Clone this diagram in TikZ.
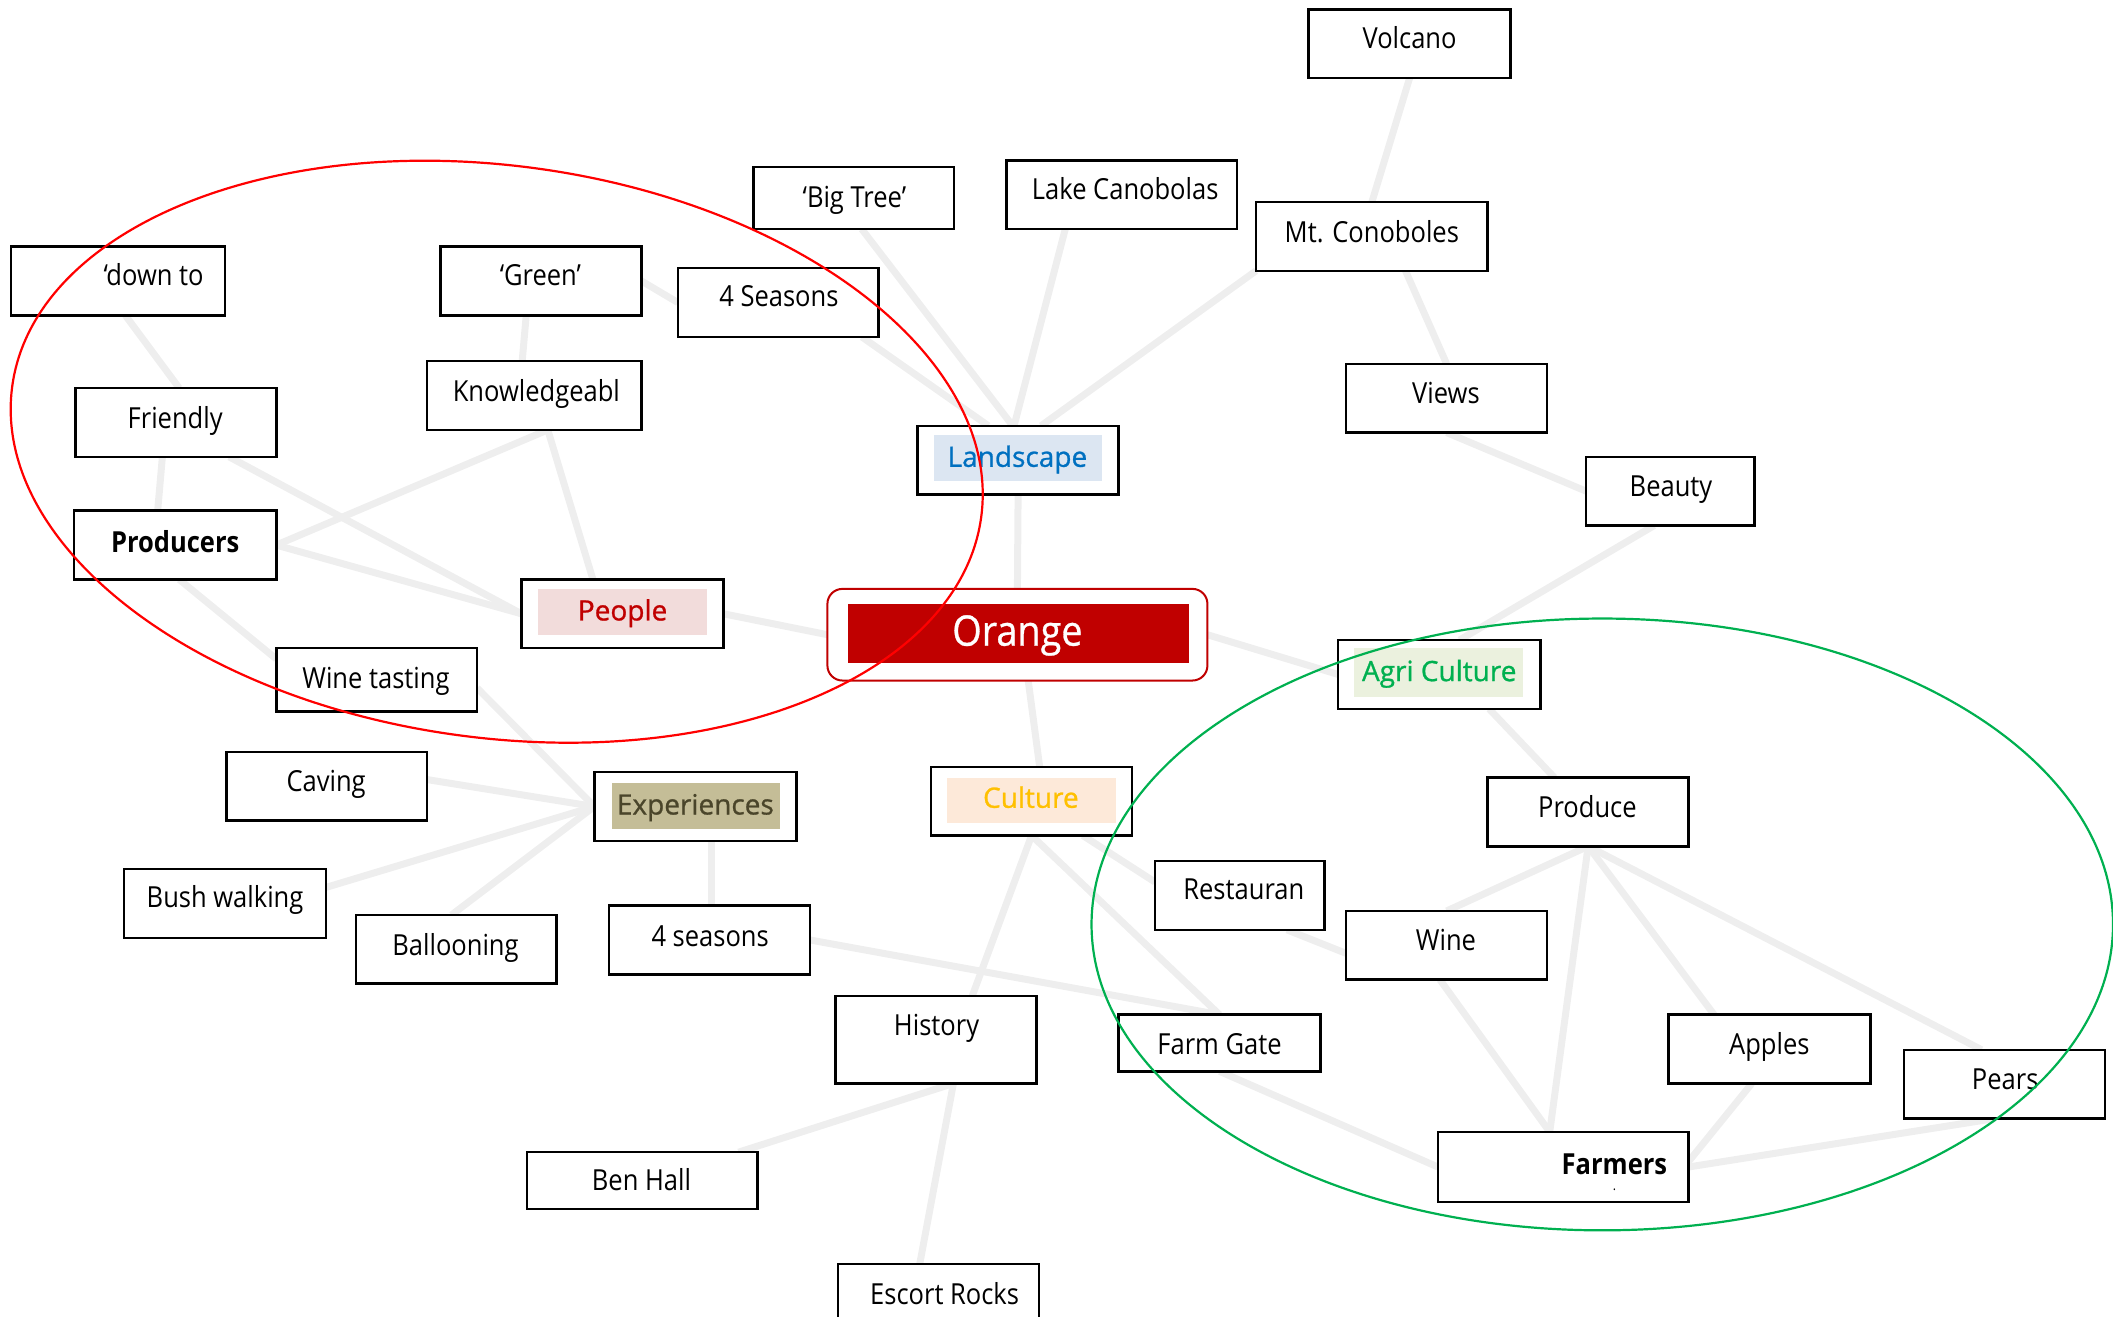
\documentclass[tikz,border=0pt]{standalone}
\usepackage{fontspec}
\setmainfont{Open Sans}
\newfontfamily\narrowfont{Open Sans}[FakeStretch=0.88]
\newfontfamily\headfont{Open Sans}[FakeBold=0.9]
\newfontfamily\centrefont{Open Sans}[FakeStretch=0.9, FakeBold=0.7]
\usetikzlibrary{fit,calc,backgrounds}

\definecolor{linkgray}{RGB}{238,238,238}
\definecolor{darkred}{RGB}{192,0,0}
\definecolor{landblue}{RGB}{0,112,192}
\definecolor{landfill}{RGB}{220,230,242}
\definecolor{peoplefill}{RGB}{242,220,219}
\definecolor{agrigreen}{RGB}{0,176,80}
\definecolor{agrifill}{RGB}{235,241,222}
\definecolor{expfill}{RGB}{196,189,151}
\definecolor{exptext}{RGB}{74,69,42}
\definecolor{cultgold}{RGB}{255,192,0}
\definecolor{cultfill}{RGB}{253,233,217}
\definecolor{ringred}{RGB}{255,0,0}

\begin{document}
\begin{tikzpicture}[x=1.3476pt, y=-1.3476pt,
  bx/.style={draw=black, line width=2.5pt, fill=white, inner sep=0pt, outer sep=0pt},
  band/.style={draw=none, inner sep=0pt, outer sep=0pt},
  lbl/.style={font=\narrowfont\fontsize{29}{34}\selectfont, inner sep=0pt, text height=20.7pt, text depth=0pt},
  blbl/.style={lbl, font=\narrowfont\bfseries\fontsize{29}{34}\selectfont},
  hdr/.style={font=\headfont\fontsize{28}{34}\selectfont, inner sep=0pt, text height=20pt, text depth=0pt},
  link/.style={draw=linkgray, line width=7pt},
  ring/.style={line width=2.2pt}]

\useasboundingbox (0,0) rectangle (1568,977.3);
\clip (0,0) rectangle (1568,977.3);

% ---------- boxes ----------
\node[bx, fit={(971,7) (1121,58)}] (vol) {};
\node[bx, fit={(559,124) (708,170)}] (bigtree) {};
\node[bx, fit={(747,119) (918,170)}] (lake) {};
\node[bx, fit={(932,150) (1104,201)}] (mt) {};
\node[bx, fit={(8,183) (167,234)}] (down) {};
\node[bx, fit={(327,183) (476,234)}] (green) {};
\node[bx, fit={(503,199) (652,250)}] (seasonsA) {};
\node[bx, fit={(317,268) (476,319)}] (knowl) {};
\node[bx, fit={(56,288) (205,339)}] (friendly) {};
\node[bx, fit={(999,270) (1148,321)}] (views) {};
\node[bx, fit={(681,316) (830,367)}] (land) {};
\node[bx, fit={(1177,339) (1302,390)}] (beauty) {};
\node[bx, fit={(55,379) (205,430)}] (prod) {};
\node[bx, fit={(387,430) (537,481)}] (people) {};
\node[bx, draw=darkred, line width=2pt, rounded corners=15pt, fit={(614,437) (896,505)}] (orange) {};
\node[bx, fit={(993,475) (1143,526)}] (agri) {};
\node[bx, fit={(205,481) (354,528)}] (wt) {};
\node[bx, fit={(168,558) (317,609)}] (caving) {};
\node[bx, fit={(441,573) (591,624)}] (exp) {};
\node[bx, fit={(691,569) (840,620)}] (culture) {};
\node[bx, fit={(1104,577) (1253,628)}] (produce) {};
\node[bx, fit={(857,639) (983,690)}] (rest) {};
\node[bx, fit={(92,645) (242,696)}] (bush) {};
\node[bx, fit={(999,676) (1148,727)}] (wine) {};
\node[bx, fit={(452,672) (601,723)}] (seasonsB) {};
\node[bx, fit={(264,679) (413,730)}] (ball) {};
\node[bx, fit={(620,739) (769,804)}] (history) {};
\node[bx, fit={(830,753) (980,795)}] (farmgate) {};
\node[bx, fit={(1238,753) (1388,804)}] (apples) {};
\node[bx, fit={(1413,779) (1562,830)}] (pears) {};
\node[bx, fit={(1067,840) (1253,892)}] (farmers) {};
\node[bx, fit={(391,855) (562,897)}] (ben) {};
\node[bx, fit={(622,938) (771,995)}] (escort) {};

% ---------- coloured bands inside the key boxes ----------
\node[band, fill=landfill, fit={(693,323) (818,357)}] (land-band) {};
\node[band, fill=peoplefill, fit={(399,437) (525,471)}] (people-band) {};
\node[band, fill=darkred, fit={(629,448) (882,492)}] (orange-band) {};
\node[band, fill=agrifill, fit={(1005,481) (1130,517)}] (agri-band) {};
\node[band, fill=expfill, fit={(454,581) (579,615)}] (exp-band) {};
\node[band, fill=cultfill, fit={(703,577) (828,611)}] (culture-band) {};

% ---------- labels ----------
\node[lbl] (vol-t) at (1046,28) {Volcano};
\node[lbl] (bigtree-t) at (634,146) {‘Big Tree’};
\node[lbl] (lake-t) at (835,140) {Lake Canobolas};
\node[lbl] (mt-t) at (1018,172) {Mt. Conoboles};
\node[lbl] (down-t) at (114,204) {‘down to};
\node[lbl] (green-t) at (401,204) {‘Green’};
\node[lbl] (seasonsA-t) at (578,220) {4 Seasons};
\node[lbl] (knowl-t) at (398,290) {Knowledgeabl};
\node[lbl] (friendly-t) at (130,310) {Friendly};
\node[lbl] (views-t) at (1073,292) {Views};
\node[hdr, text=landblue] (land-t) at (755,339) {Landscape};
\node[lbl] (beauty-t) at (1240,361) {Beauty};
\node[blbl] (prod-t) at (130,402) {Producers};
\node[hdr, text=darkred] (people-t) at (462,453) {People};
\node[hdr, text=white, font=\centrefont\fontsize{42}{48}\selectfont, text height=30pt] (orange-t) at (755,468) {Orange};
\node[hdr, text=agrigreen] (agri-t) at (1068,498) {Agri Culture};
\node[lbl] (wt-t) at (279,503) {Wine tasting};
\node[lbl] (caving-t) at (242,580) {Caving};
\node[hdr, text=exptext] (exp-t) at (516,597) {Experiences};
\node[hdr, text=cultgold] (culture-t) at (765,592) {Culture};
\node[lbl] (produce-t) at (1178,599) {Produce};
\node[lbl] (rest-t) at (923,660) {Restauran};
\node[lbl] (bush-t) at (167,666) {Bush walking};
\node[lbl] (wine-t) at (1073,698) {Wine};
\node[lbl] (seasonsB-t) at (527,695) {4 seasons};
\node[lbl] (ball-t) at (338,701) {Ballooning};
\node[lbl] (history-t) at (695,761) {History};
\node[lbl] (farmgate-t) at (905,775) {Farm Gate};
\node[lbl] (apples-t) at (1313,775) {Apples};
\node[lbl] (pears-t) at (1488,801) {Pears};
\node[blbl] (farmers-t) at (1198,864) {Farmers};
\node[font=\narrowfont\fontsize{14}{16}\selectfont, inner sep=0pt] (farmers-dot) at (1198,883) {.};
\node[lbl] (ben-t) at (476,876) {Ben Hall};
\node[lbl] (escort-t) at (701,960) {Escort Rocks};

% ---------- connectors, kept behind the boxes ----------
\begin{scope}[on background layer]
\draw[link] (vol.south) -- (mt.north);
\draw[link] ($(land.north)+(17,0)$) -- (mt.south west);
\draw[link] ($(mt.south)+(25,0)$) -- (views.north);
\draw[link] (views.south) -- (beauty.west);
\draw[link] ($(beauty.south)+(-12,0)$) -- ($(agri.north)+(15,0)$);
\draw[link] ($(lake.south)+(-42,0)$) -- ($(land.north)+(-3,0)$);
\draw[link] ($(bigtree.south)+(6,0)$) -- ($(land.north)+(-4,0)$);
\draw[link] ($(seasonsA.south)+(62,0)$) -- ($(land.north)+(-22,0)$);
\draw[link] (green.east) -- (seasonsA.west);
\draw[link] ($(green.south)+(-11,0)$) -- ($(knowl.north)+(-9,0)$);
\draw[link] ($(knowl.south)+(10,0)$) -- ($(people.north)+(-22,0)$);
\draw[link] ($(knowl.south)+(10,0)$) -- (prod.east);
\draw[link] ($(down.south)+(5.5,0)$) -- ($(friendly.north)+(2.5,0)$);
\draw[link] ($(friendly.south)+(-10,0)$) -- ($(prod.north)+(-13,0)$);
\draw[link] ($(friendly.south east)+(-35,0)$) -- (people.west);
\draw[link] (prod.east) -- (people.west);
\draw[link] ($(prod.south)+(3,0)$) -- ($(wt.north west)+(0,8)$);
\draw[link] ($(wt.east)+(0,6)$) -- (exp.west);
\draw[link] ($(caving.east)+(0,-5)$) -- (exp.west);
\draw[link] ($(bush.east)+(0,-12)$) -- (exp.west);
\draw[link] ($(ball.north)+(-3.5,0)$) -- (exp.west);
\draw[link] ($(exp.south)+(12,0)$) -- ($(seasonsB.north)+(1.5,0)$);
\draw[link] (seasonsB.east) -- (farmgate.north);
\draw[link] (culture.south) -- (farmgate.north);
\draw[link] (culture.south) -- ($(history.north)+(27,0)$);
\draw[link] ($(culture.south)+(38,0)$) -- ($(rest.west)+(0,-10)$);
\draw[link] ($(rest.south east)+(-28,0)$) -- ($(wine.west)+(0,6)$);
\draw[link] ($(history.south)+(13,0)$) -- ($(ben.north east)+(-14,0)$);
\draw[link] ($(history.south)+(13,0)$) -- ($(escort.north)+(-14,0)$);
\draw[link] ($(agri.south)+(37,0)$) -- ($(produce.north)+(-25,0)$);
\draw[link] (produce.south) -- (wine.north);
\draw[link] (produce.south) -- ($(farmers.north)+(-10,0)$);
\draw[link] (produce.south) -- ($(apples.north)+(-41,0)$);
\draw[link] (produce.south) -- ($(pears.north)+(-17,0)$);
\draw[link] ($(wine.south)+(-5,0)$) -- ($(farmers.north)+(-10,0)$);
\draw[link] (farmgate.south) -- (farmers.west);
\draw[link] ($(apples.south)+(-13,0)$) -- ($(farmers.east)+(0,-4)$);
\draw[link] ($(pears.south)+(-7,0)$) -- (farmers.east);
\draw[link] (people.east) -- (orange.west);
\draw[link] (land.south) -- (orange.north);
\draw[link] (orange.east) -- (agri.west);
\draw[link] ($(orange.south)+(8,0)$) -- ($(culture.north)+(6,0)$);
\end{scope}

% ---------- grouping rings, drawn over everything ----------
\draw[ring, draw=ringred, shift={(368.6,335.2)}, rotate=-7.68] (0,0) ellipse [x radius=362.8, y radius=212.3];
\draw[ring, draw=agrigreen] (1189,686) ellipse [x radius=379, y radius=227];

\end{tikzpicture}
\end{document}
